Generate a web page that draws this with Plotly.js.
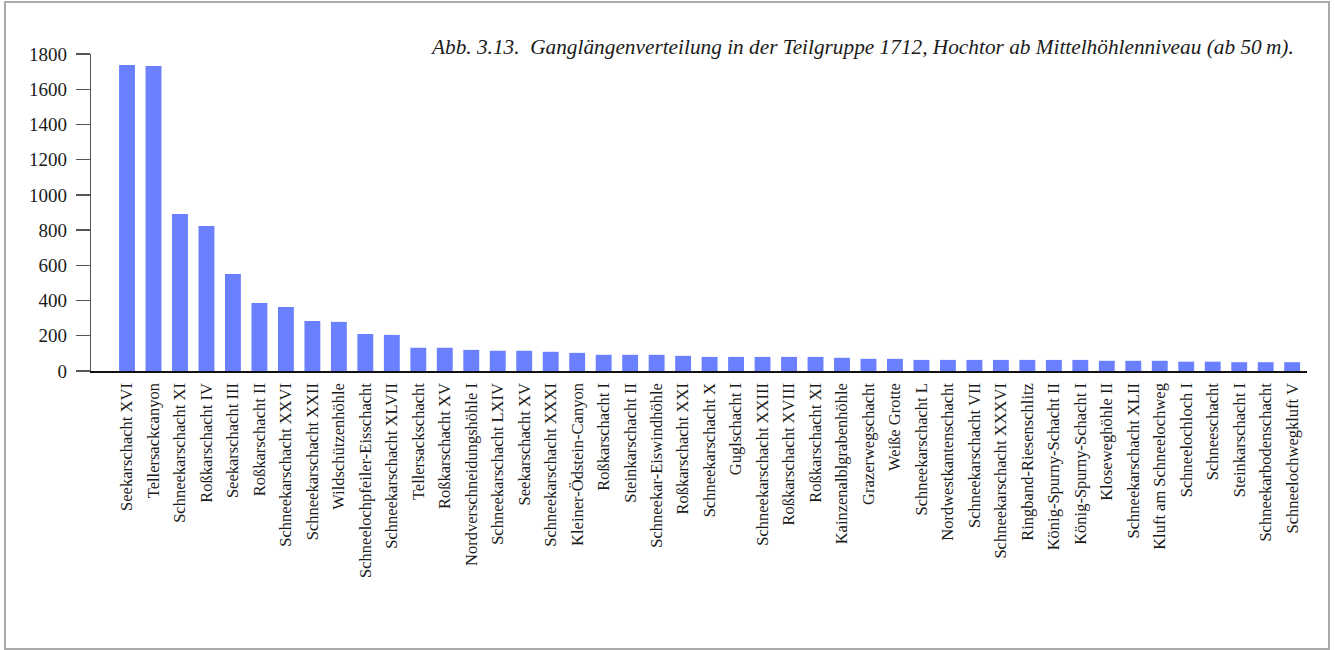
<!DOCTYPE html>
<html>
<head>
<meta charset="utf-8">
<script src="https://cdn.plot.ly/plotly-3.0.1.min.js"></script>
<style>
  html, body { margin: 0; padding: 0; background: #fff; }
  #chart { position: absolute; left: 0; top: 0; width: 1335px; height: 650px; }
  #frame { position: absolute; left: 4px; top: 1px; width: 1326px; height: 649px; box-sizing: border-box; border: 2px solid #aaaaaa; pointer-events: none; }
</style>
</head>
<body>
<div id="chart"></div>
<div id="frame"></div>
<script>
const caves = [
  "Seekarschacht XVI", "Tellersackcanyon", "Schneekarschacht XI", "Roßkarschacht IV",
  "Seekarschacht III", "Roßkarschacht II", "Schneekarschacht XXVI", "Schneekarschacht XXII",
  "Wildschützenhöhle", "Schneelochpfeiler-Eisschacht", "Schneekarschacht XLVII", "Tellersackschacht",
  "Roßkarschacht XV", "Nordverschneidungshöhle I", "Schneekarschacht LXIV", "Seekarschacht XV",
  "Schneekarschacht XXXI", "Kleiner-Ödstein-Canyon", "Roßkarschacht I", "Steinkarschacht II",
  "Schneekar-Eiswindhöhle", "Roßkarschacht XXI", "Schneekarschacht X", "Guglschacht I",
  "Schneekarschacht XXIII", "Roßkarschacht XVIII", "Roßkarschacht XI", "Kainzenalblgrabenhöhle",
  "Grazerwegschacht", "Weiße Grotte", "Schneekarschacht L", "Nordwestkantenschacht",
  "Schneekarschacht VII", "Schneekarschacht XXXVI", "Ringband-Riesenschlitz", "König-Spurny-Schacht II",
  "König-Spurny-Schacht I", "Kloseweghöhle II", "Schneekarschacht XLII", "Kluft am Schneelochweg",
  "Schneelochloch I", "Schneeschacht", "Steinkarschacht I", "Schneekarbodenschacht",
  "Schneelochwegkluft V"
];
const lengths = [
  1737, 1732, 891, 823,
  551, 386, 363, 284,
  279, 210, 205, 132,
  132, 120, 115, 115,
  109, 103, 92, 92,
  92, 86, 80, 80,
  80, 80, 80, 75,
  69, 69, 63, 63,
  63, 63, 63, 63,
  63, 58, 58, 58,
  53, 53, 50, 50,
  50
];
const yTicks = [0, 200, 400, 600, 800, 1000, 1200, 1400, 1600, 1800];
const titleText = "Abb. 3.13.  Ganglängenverteilung in der Teilgruppe 1712, Hochtor ab Mittelhöhlenniveau (ab 50\u2009m).";

const serif = "'Liberation Serif', 'DejaVu Serif', serif";

const trace = {
  type: 'bar',
  x: caves.map((c, i) => i),
  y: lengths,
  marker: { color: '#6a80ff', line: { width: 0 } },
  hoverinfo: 'skip'
};

const layout = {
  width: 1335,
  height: 650,
  margin: { l: 91, r: 28, t: 54, b: 279, pad: 0 },
  paper_bgcolor: 'rgba(0,0,0,0)',
  plot_bgcolor: 'rgba(0,0,0,0)',
  showlegend: false,
  bargap: 0.4,
  font: { family: serif, color: '#1a1a1a' },
  xaxis: {
    range: [-1.36, 44.56],
    tickmode: 'array',
    tickvals: caves.map((c, i) => i),
    ticktext: caves,
    tickangle: -90,
    ticks: '',
    ticklabelstandoff: 4,
    tickfont: { family: serif, size: 16.5, color: '#1a1a1a' },
    showline: true,
    linecolor: '#111111',
    linewidth: 1.5,
    showgrid: false,
    zeroline: false,
    fixedrange: true
  },
  yaxis: {
    range: [0, 1800],
    tickmode: 'array',
    tickvals: yTicks,
    ticktext: yTicks.map(String),
    ticks: 'outside',
    ticklen: 14,
    tickwidth: 1.3,
    tickcolor: '#555555',
    ticklabelstandoff: 5,
    tickfont: { family: serif, size: 19, color: '#1a1a1a' },
    showline: true,
    linecolor: '#555555',
    linewidth: 1.3,
    showgrid: false,
    zeroline: false,
    fixedrange: true
  },
  annotations: [{
    text: '<i>' + titleText + '</i>',
    xref: 'paper', yref: 'paper',
    x: (1296 - 91) / 1216, y: (371 - 47) / 317,
    xanchor: 'right', yanchor: 'middle',
    showarrow: false,
    font: { family: serif, size: 21.3, color: '#1a1a1a' }
  }]
};

Plotly.newPlot('chart', [trace], layout, { displayModeBar: false, staticPlot: true });
</script>
</body>
</html>
